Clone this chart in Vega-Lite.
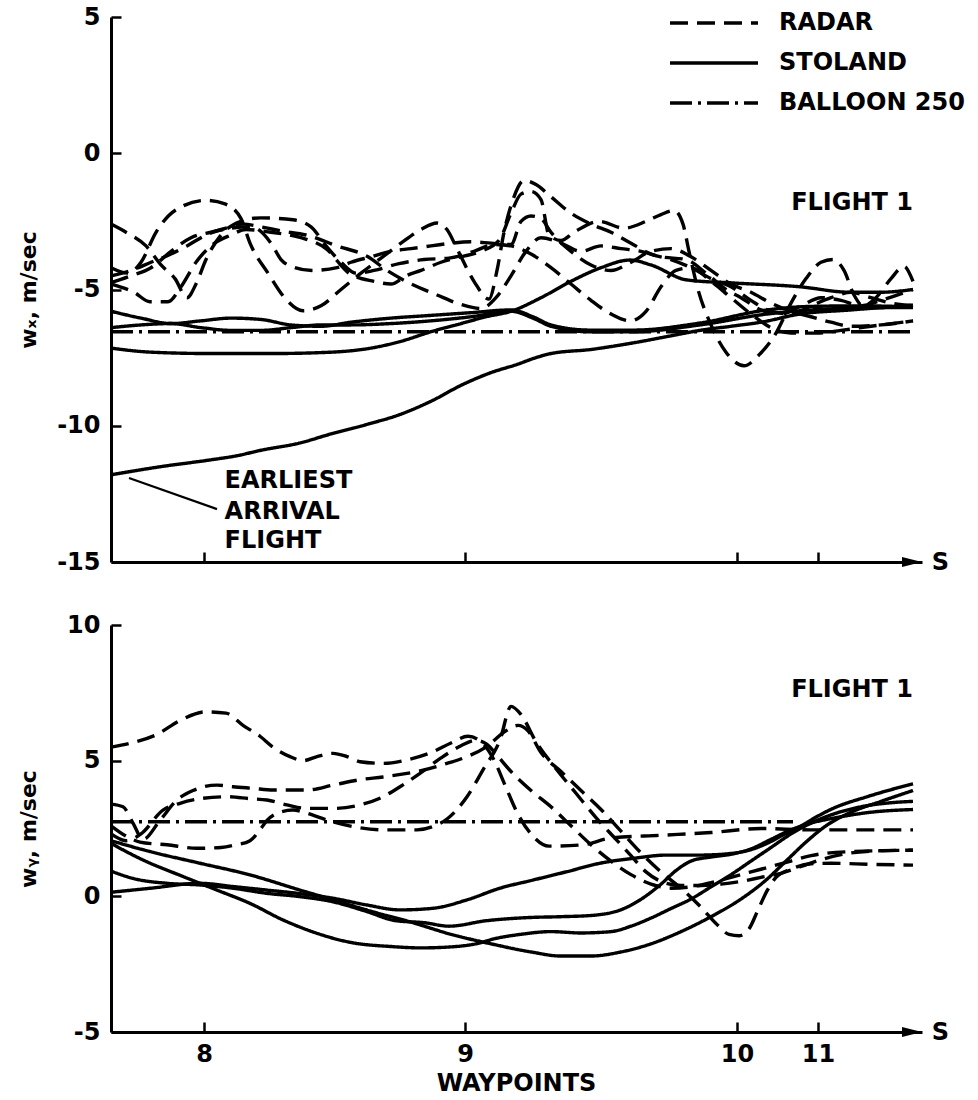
{
"$schema": "https://vega.github.io/schema/vega-lite/v6.json",
"padding": {"left": 17, "top": 5, "right": 5, "bottom": 5},
"bounds": "flush",
"spacing": 63,
"config": {
  "view": {"stroke": null},
  "font": "DejaVu Sans",
  "axis": {"domainColor": "#000", "domainWidth": 3, "tickColor": "#000", "tickWidth": 2.5, "labelColor": "#000", "labelFont": "DejaVu Sans", "labelFontWeight": "bold", "labelFontSize": 24, "titleColor": "#000", "titleFont": "DejaVu Sans", "titleFontWeight": "bold", "grid": false}
},
"datasets": {
"curves": [
{"p":"x","t":"STOLAND","id":"xs1","s":0,"w":-11.8},{"p":"x","t":"STOLAND","id":"xs1","s":5,"w":-11.5},{"p":"x","t":"STOLAND","id":"xs1","s":10,"w":-11.25},{"p":"x","t":"STOLAND","id":"xs1","s":12.6,"w":-11.1},{"p":"x","t":"STOLAND","id":"xs1","s":15,"w":-10.9},{"p":"x","t":"STOLAND","id":"xs1","s":18.8,"w":-10.64},{"p":"x","t":"STOLAND","id":"xs1","s":22,"w":-10.3},{"p":"x","t":"STOLAND","id":"xs1","s":25.7,"w":-9.94},{"p":"x","t":"STOLAND","id":"xs1","s":28.8,"w":-9.6},{"p":"x","t":"STOLAND","id":"xs1","s":32,"w":-9.1},{"p":"x","t":"STOLAND","id":"xs1","s":35.1,"w":-8.5},{"p":"x","t":"STOLAND","id":"xs1","s":38,"w":-8.05},{"p":"x","t":"STOLAND","id":"xs1","s":40.6,"w":-7.75},{"p":"x","t":"STOLAND","id":"xs1","s":42.5,"w":-7.5},{"p":"x","t":"STOLAND","id":"xs1","s":44,"w":-7.35},{"p":"x","t":"STOLAND","id":"xs1","s":48,"w":-7.2},{"p":"x","t":"STOLAND","id":"xs1","s":52.2,"w":-6.96},{"p":"x","t":"STOLAND","id":"xs1","s":56,"w":-6.7},{"p":"x","t":"STOLAND","id":"xs1","s":58.9,"w":-6.5},{"p":"x","t":"STOLAND","id":"xs1","s":62,"w":-6.35},{"p":"x","t":"STOLAND","id":"xs1","s":65,"w":-6.2},{"p":"x","t":"STOLAND","id":"xs1","s":68.9,"w":-5.9},{"p":"x","t":"STOLAND","id":"xs1","s":74,"w":-5.75},{"p":"x","t":"STOLAND","id":"xs1","s":80.2,"w":-5.57},
{"p":"x","t":"STOLAND","id":"xs2","s":0,"w":-7.15},{"p":"x","t":"STOLAND","id":"xs2","s":4,"w":-7.3},{"p":"x","t":"STOLAND","id":"xs2","s":10,"w":-7.35},{"p":"x","t":"STOLAND","id":"xs2","s":16,"w":-7.35},{"p":"x","t":"STOLAND","id":"xs2","s":22,"w":-7.3},{"p":"x","t":"STOLAND","id":"xs2","s":26,"w":-7.15},{"p":"x","t":"STOLAND","id":"xs2","s":29,"w":-6.9},{"p":"x","t":"STOLAND","id":"xs2","s":32,"w":-6.55},{"p":"x","t":"STOLAND","id":"xs2","s":35,"w":-6.25},{"p":"x","t":"STOLAND","id":"xs2","s":37.5,"w":-6.0},{"p":"x","t":"STOLAND","id":"xs2","s":40,"w":-5.8},{"p":"x","t":"STOLAND","id":"xs2","s":43,"w":-5.3},{"p":"x","t":"STOLAND","id":"xs2","s":46,"w":-4.7},{"p":"x","t":"STOLAND","id":"xs2","s":49,"w":-4.2},{"p":"x","t":"STOLAND","id":"xs2","s":51.9,"w":-3.92},{"p":"x","t":"STOLAND","id":"xs2","s":54,"w":-4.1},{"p":"x","t":"STOLAND","id":"xs2","s":57.6,"w":-4.65},{"p":"x","t":"STOLAND","id":"xs2","s":62.2,"w":-4.76},{"p":"x","t":"STOLAND","id":"xs2","s":68.9,"w":-4.9},{"p":"x","t":"STOLAND","id":"xs2","s":73.9,"w":-5.1},{"p":"x","t":"STOLAND","id":"xs2","s":77,"w":-5.1},{"p":"x","t":"STOLAND","id":"xs2","s":80.2,"w":-5.0},
{"p":"x","t":"STOLAND","id":"xs3","s":0,"w":-5.8},{"p":"x","t":"STOLAND","id":"xs3","s":3,"w":-6.05},{"p":"x","t":"STOLAND","id":"xs3","s":6,"w":-6.25},{"p":"x","t":"STOLAND","id":"xs3","s":9,"w":-6.15},{"p":"x","t":"STOLAND","id":"xs3","s":12,"w":-6.05},{"p":"x","t":"STOLAND","id":"xs3","s":15,"w":-6.1},{"p":"x","t":"STOLAND","id":"xs3","s":18,"w":-6.3},{"p":"x","t":"STOLAND","id":"xs3","s":21,"w":-6.35},{"p":"x","t":"STOLAND","id":"xs3","s":24,"w":-6.2},{"p":"x","t":"STOLAND","id":"xs3","s":28,"w":-6.05},{"p":"x","t":"STOLAND","id":"xs3","s":32,"w":-5.95},{"p":"x","t":"STOLAND","id":"xs3","s":36,"w":-5.85},{"p":"x","t":"STOLAND","id":"xs3","s":40,"w":-5.75},{"p":"x","t":"STOLAND","id":"xs3","s":42.2,"w":-6.0},{"p":"x","t":"STOLAND","id":"xs3","s":44,"w":-6.3},{"p":"x","t":"STOLAND","id":"xs3","s":47.9,"w":-6.49},{"p":"x","t":"STOLAND","id":"xs3","s":52.2,"w":-6.49},{"p":"x","t":"STOLAND","id":"xs3","s":58.9,"w":-6.23},{"p":"x","t":"STOLAND","id":"xs3","s":65.6,"w":-5.75},{"p":"x","t":"STOLAND","id":"xs3","s":70,"w":-5.62},{"p":"x","t":"STOLAND","id":"xs3","s":75,"w":-5.6},{"p":"x","t":"STOLAND","id":"xs3","s":80.2,"w":-5.64},
{"p":"x","t":"STOLAND","id":"xs4","s":0,"w":-6.4},{"p":"x","t":"STOLAND","id":"xs4","s":3,"w":-6.3},{"p":"x","t":"STOLAND","id":"xs4","s":6,"w":-6.25},{"p":"x","t":"STOLAND","id":"xs4","s":9,"w":-6.4},{"p":"x","t":"STOLAND","id":"xs4","s":12,"w":-6.5},{"p":"x","t":"STOLAND","id":"xs4","s":15,"w":-6.5},{"p":"x","t":"STOLAND","id":"xs4","s":18,"w":-6.4},{"p":"x","t":"STOLAND","id":"xs4","s":21,"w":-6.3},{"p":"x","t":"STOLAND","id":"xs4","s":24,"w":-6.3},{"p":"x","t":"STOLAND","id":"xs4","s":28,"w":-6.25},{"p":"x","t":"STOLAND","id":"xs4","s":32,"w":-6.15},{"p":"x","t":"STOLAND","id":"xs4","s":36,"w":-6.0},{"p":"x","t":"STOLAND","id":"xs4","s":40,"w":-5.8},{"p":"x","t":"STOLAND","id":"xs4","s":42.2,"w":-6.05},{"p":"x","t":"STOLAND","id":"xs4","s":44,"w":-6.35},{"p":"x","t":"STOLAND","id":"xs4","s":47.9,"w":-6.55},{"p":"x","t":"STOLAND","id":"xs4","s":52.2,"w":-6.55},{"p":"x","t":"STOLAND","id":"xs4","s":58.9,"w":-6.3},{"p":"x","t":"STOLAND","id":"xs4","s":65.6,"w":-5.9},{"p":"x","t":"STOLAND","id":"xs4","s":70,"w":-5.75},{"p":"x","t":"STOLAND","id":"xs4","s":75,"w":-5.68},{"p":"x","t":"STOLAND","id":"xs4","s":80.2,"w":-5.66},
{"p":"x","t":"BALLOON 250","id":"xb","s":0,"w":-6.55},{"p":"x","t":"BALLOON 250","id":"xb","s":80.2,"w":-6.55},
{"p":"x","t":"RADAR","id":"xr1","s":0,"w":-2.6},{"p":"x","t":"RADAR","id":"xr1","s":1.5,"w":-2.9},{"p":"x","t":"RADAR","id":"xr1","s":3.5,"w":-3.4},{"p":"x","t":"RADAR","id":"xr1","s":5,"w":-4.1},{"p":"x","t":"RADAR","id":"xr1","s":6.4,"w":-4.6},{"p":"x","t":"RADAR","id":"xr1","s":7.6,"w":-5.3},{"p":"x","t":"RADAR","id":"xr1","s":8.5,"w":-4.8},{"p":"x","t":"RADAR","id":"xr1","s":9.5,"w":-3.9},{"p":"x","t":"RADAR","id":"xr1","s":11,"w":-3.0},{"p":"x","t":"RADAR","id":"xr1","s":13,"w":-2.5},{"p":"x","t":"RADAR","id":"xr1","s":15,"w":-2.37},{"p":"x","t":"RADAR","id":"xr1","s":18.2,"w":-2.44},{"p":"x","t":"RADAR","id":"xr1","s":20,"w":-2.7},{"p":"x","t":"RADAR","id":"xr1","s":21.5,"w":-3.4},{"p":"x","t":"RADAR","id":"xr1","s":23,"w":-4.0},{"p":"x","t":"RADAR","id":"xr1","s":24.5,"w":-4.4},{"p":"x","t":"RADAR","id":"xr1","s":26.3,"w":-4.3},{"p":"x","t":"RADAR","id":"xr1","s":28.8,"w":-4.05},{"p":"x","t":"RADAR","id":"xr1","s":31.3,"w":-3.9},{"p":"x","t":"RADAR","id":"xr1","s":33.8,"w":-3.85},{"p":"x","t":"RADAR","id":"xr1","s":36.3,"w":-3.6},{"p":"x","t":"RADAR","id":"xr1","s":38.3,"w":-3.35},{"p":"x","t":"RADAR","id":"xr1","s":40,"w":-3.4},{"p":"x","t":"RADAR","id":"xr1","s":42,"w":-3.7},{"p":"x","t":"RADAR","id":"xr1","s":44,"w":-4.2},{"p":"x","t":"RADAR","id":"xr1","s":46,"w":-4.8},{"p":"x","t":"RADAR","id":"xr1","s":48,"w":-5.4},{"p":"x","t":"RADAR","id":"xr1","s":50,"w":-5.9},{"p":"x","t":"RADAR","id":"xr1","s":51.9,"w":-6.15},{"p":"x","t":"RADAR","id":"xr1","s":53.5,"w":-5.8},{"p":"x","t":"RADAR","id":"xr1","s":55,"w":-4.9},{"p":"x","t":"RADAR","id":"xr1","s":56.5,"w":-4.3},{"p":"x","t":"RADAR","id":"xr1","s":58,"w":-4.2},{"p":"x","t":"RADAR","id":"xr1","s":60,"w":-4.7},{"p":"x","t":"RADAR","id":"xr1","s":62,"w":-5.3},{"p":"x","t":"RADAR","id":"xr1","s":64,"w":-5.9},{"p":"x","t":"RADAR","id":"xr1","s":66,"w":-6.4},{"p":"x","t":"RADAR","id":"xr1","s":68,"w":-6.6},{"p":"x","t":"RADAR","id":"xr1","s":70.5,"w":-6.6},{"p":"x","t":"RADAR","id":"xr1","s":73,"w":-6.5},{"p":"x","t":"RADAR","id":"xr1","s":76,"w":-6.35},{"p":"x","t":"RADAR","id":"xr1","s":80.2,"w":-6.15},
{"p":"x","t":"RADAR","id":"xr2","s":0,"w":-4.2},{"p":"x","t":"RADAR","id":"xr2","s":1.7,"w":-4.4},{"p":"x","t":"RADAR","id":"xr2","s":3,"w":-4.0},{"p":"x","t":"RADAR","id":"xr2","s":4.5,"w":-2.9},{"p":"x","t":"RADAR","id":"xr2","s":6.4,"w":-2.1},{"p":"x","t":"RADAR","id":"xr2","s":9.5,"w":-1.73},{"p":"x","t":"RADAR","id":"xr2","s":11.4,"w":-1.86},{"p":"x","t":"RADAR","id":"xr2","s":13,"w":-2.4},{"p":"x","t":"RADAR","id":"xr2","s":13.9,"w":-3.3},{"p":"x","t":"RADAR","id":"xr2","s":15.7,"w":-4.4},{"p":"x","t":"RADAR","id":"xr2","s":17.6,"w":-5.4},{"p":"x","t":"RADAR","id":"xr2","s":19.2,"w":-5.78},{"p":"x","t":"RADAR","id":"xr2","s":21,"w":-5.6},{"p":"x","t":"RADAR","id":"xr2","s":23,"w":-5.0},{"p":"x","t":"RADAR","id":"xr2","s":25,"w":-4.4},{"p":"x","t":"RADAR","id":"xr2","s":27,"w":-3.85},{"p":"x","t":"RADAR","id":"xr2","s":29,"w":-3.3},{"p":"x","t":"RADAR","id":"xr2","s":31,"w":-2.8},{"p":"x","t":"RADAR","id":"xr2","s":32.6,"w":-2.56},{"p":"x","t":"RADAR","id":"xr2","s":33.6,"w":-2.8},{"p":"x","t":"RADAR","id":"xr2","s":34.6,"w":-3.5},{"p":"x","t":"RADAR","id":"xr2","s":36.3,"w":-4.7},{"p":"x","t":"RADAR","id":"xr2","s":37.8,"w":-5.35},{"p":"x","t":"RADAR","id":"xr2","s":38.6,"w":-4.3},{"p":"x","t":"RADAR","id":"xr2","s":39.3,"w":-2.9},{"p":"x","t":"RADAR","id":"xr2","s":40.2,"w":-1.7},{"p":"x","t":"RADAR","id":"xr2","s":41.3,"w":-1.0},{"p":"x","t":"RADAR","id":"xr2","s":42.5,"w":-1.15},{"p":"x","t":"RADAR","id":"xr2","s":44,"w":-1.6},{"p":"x","t":"RADAR","id":"xr2","s":46,"w":-2.2},{"p":"x","t":"RADAR","id":"xr2","s":48,"w":-2.6},{"p":"x","t":"RADAR","id":"xr2","s":50,"w":-2.9},{"p":"x","t":"RADAR","id":"xr2","s":52,"w":-3.3},{"p":"x","t":"RADAR","id":"xr2","s":54,"w":-3.7},{"p":"x","t":"RADAR","id":"xr2","s":56,"w":-3.9},{"p":"x","t":"RADAR","id":"xr2","s":58,"w":-4.2},{"p":"x","t":"RADAR","id":"xr2","s":60,"w":-4.6},{"p":"x","t":"RADAR","id":"xr2","s":62,"w":-4.9},{"p":"x","t":"RADAR","id":"xr2","s":64,"w":-5.4},{"p":"x","t":"RADAR","id":"xr2","s":66,"w":-5.8},{"p":"x","t":"RADAR","id":"xr2","s":68,"w":-5.9},{"p":"x","t":"RADAR","id":"xr2","s":70,"w":-5.6},{"p":"x","t":"RADAR","id":"xr2","s":72,"w":-5.3},{"p":"x","t":"RADAR","id":"xr2","s":74,"w":-5.1},{"p":"x","t":"RADAR","id":"xr2","s":76,"w":-5.3},{"p":"x","t":"RADAR","id":"xr2","s":78,"w":-5.5},{"p":"x","t":"RADAR","id":"xr2","s":80.2,"w":-5.6},
{"p":"x","t":"RADAR","id":"xr3","s":0,"w":-4.8},{"p":"x","t":"RADAR","id":"xr3","s":2.3,"w":-5.1},{"p":"x","t":"RADAR","id":"xr3","s":3.9,"w":-5.45},{"p":"x","t":"RADAR","id":"xr3","s":5.7,"w":-5.45},{"p":"x","t":"RADAR","id":"xr3","s":7,"w":-4.9},{"p":"x","t":"RADAR","id":"xr3","s":8.5,"w":-4.0},{"p":"x","t":"RADAR","id":"xr3","s":10,"w":-3.4},{"p":"x","t":"RADAR","id":"xr3","s":12,"w":-3.0},{"p":"x","t":"RADAR","id":"xr3","s":13.5,"w":-2.8},{"p":"x","t":"RADAR","id":"xr3","s":16,"w":-2.9},{"p":"x","t":"RADAR","id":"xr3","s":19,"w":-3.1},{"p":"x","t":"RADAR","id":"xr3","s":21.5,"w":-3.5},{"p":"x","t":"RADAR","id":"xr3","s":23.8,"w":-4.4},{"p":"x","t":"RADAR","id":"xr3","s":26.3,"w":-4.7},{"p":"x","t":"RADAR","id":"xr3","s":28,"w":-4.8},{"p":"x","t":"RADAR","id":"xr3","s":29.5,"w":-4.5},{"p":"x","t":"RADAR","id":"xr3","s":31,"w":-4.3},{"p":"x","t":"RADAR","id":"xr3","s":33,"w":-4.0},{"p":"x","t":"RADAR","id":"xr3","s":35,"w":-3.8},{"p":"x","t":"RADAR","id":"xr3","s":37,"w":-3.6},{"p":"x","t":"RADAR","id":"xr3","s":38.8,"w":-3.2},{"p":"x","t":"RADAR","id":"xr3","s":40,"w":-2.2},{"p":"x","t":"RADAR","id":"xr3","s":41,"w":-1.5},{"p":"x","t":"RADAR","id":"xr3","s":42,"w":-1.4},{"p":"x","t":"RADAR","id":"xr3","s":43,"w":-1.7},{"p":"x","t":"RADAR","id":"xr3","s":43.8,"w":-3.0},{"p":"x","t":"RADAR","id":"xr3","s":45,"w":-3.2},{"p":"x","t":"RADAR","id":"xr3","s":46.3,"w":-2.9},{"p":"x","t":"RADAR","id":"xr3","s":48.8,"w":-2.5},{"p":"x","t":"RADAR","id":"xr3","s":51.3,"w":-2.75},{"p":"x","t":"RADAR","id":"xr3","s":53.5,"w":-2.5},{"p":"x","t":"RADAR","id":"xr3","s":55,"w":-2.25},{"p":"x","t":"RADAR","id":"xr3","s":56.3,"w":-2.1},{"p":"x","t":"RADAR","id":"xr3","s":57.2,"w":-2.6},{"p":"x","t":"RADAR","id":"xr3","s":57.8,"w":-3.6},{"p":"x","t":"RADAR","id":"xr3","s":58.7,"w":-5.0},{"p":"x","t":"RADAR","id":"xr3","s":60,"w":-6.3},{"p":"x","t":"RADAR","id":"xr3","s":61.5,"w":-7.3},{"p":"x","t":"RADAR","id":"xr3","s":63.3,"w":-7.8},{"p":"x","t":"RADAR","id":"xr3","s":64.8,"w":-7.4},{"p":"x","t":"RADAR","id":"xr3","s":66.5,"w":-6.6},{"p":"x","t":"RADAR","id":"xr3","s":68,"w":-5.5},{"p":"x","t":"RADAR","id":"xr3","s":69.5,"w":-4.6},{"p":"x","t":"RADAR","id":"xr3","s":71,"w":-4.0},{"p":"x","t":"RADAR","id":"xr3","s":72.2,"w":-3.9},{"p":"x","t":"RADAR","id":"xr3","s":73.3,"w":-4.3},{"p":"x","t":"RADAR","id":"xr3","s":74.3,"w":-5.2},{"p":"x","t":"RADAR","id":"xr3","s":75.2,"w":-5.6},{"p":"x","t":"RADAR","id":"xr3","s":76.5,"w":-5.3},{"p":"x","t":"RADAR","id":"xr3","s":78,"w":-4.6},{"p":"x","t":"RADAR","id":"xr3","s":79.3,"w":-4.15},{"p":"x","t":"RADAR","id":"xr3","s":80.2,"w":-4.7},
{"p":"x","t":"RADAR","id":"xr4","s":0,"w":-4.5},{"p":"x","t":"RADAR","id":"xr4","s":2,"w":-4.3},{"p":"x","t":"RADAR","id":"xr4","s":4,"w":-4.0},{"p":"x","t":"RADAR","id":"xr4","s":6,"w":-3.7},{"p":"x","t":"RADAR","id":"xr4","s":7.6,"w":-3.4},{"p":"x","t":"RADAR","id":"xr4","s":9.5,"w":-3.0},{"p":"x","t":"RADAR","id":"xr4","s":11.4,"w":-2.76},{"p":"x","t":"RADAR","id":"xr4","s":13.2,"w":-2.6},{"p":"x","t":"RADAR","id":"xr4","s":15,"w":-2.7},{"p":"x","t":"RADAR","id":"xr4","s":17,"w":-2.85},{"p":"x","t":"RADAR","id":"xr4","s":19.5,"w":-3.0},{"p":"x","t":"RADAR","id":"xr4","s":22.6,"w":-3.4},{"p":"x","t":"RADAR","id":"xr4","s":25.7,"w":-3.8},{"p":"x","t":"RADAR","id":"xr4","s":27.6,"w":-4.3},{"p":"x","t":"RADAR","id":"xr4","s":29.5,"w":-4.7},{"p":"x","t":"RADAR","id":"xr4","s":32.6,"w":-5.2},{"p":"x","t":"RADAR","id":"xr4","s":35,"w":-5.55},{"p":"x","t":"RADAR","id":"xr4","s":37,"w":-5.7},{"p":"x","t":"RADAR","id":"xr4","s":38.5,"w":-5.3},{"p":"x","t":"RADAR","id":"xr4","s":40,"w":-4.5},{"p":"x","t":"RADAR","id":"xr4","s":41.5,"w":-3.6},{"p":"x","t":"RADAR","id":"xr4","s":43,"w":-3.1},{"p":"x","t":"RADAR","id":"xr4","s":45,"w":-3.3},{"p":"x","t":"RADAR","id":"xr4","s":47,"w":-3.6},{"p":"x","t":"RADAR","id":"xr4","s":49,"w":-3.4},{"p":"x","t":"RADAR","id":"xr4","s":51,"w":-3.5},{"p":"x","t":"RADAR","id":"xr4","s":53,"w":-3.6},{"p":"x","t":"RADAR","id":"xr4","s":55,"w":-3.8},{"p":"x","t":"RADAR","id":"xr4","s":57.5,"w":-3.9},{"p":"x","t":"RADAR","id":"xr4","s":59.5,"w":-4.4},{"p":"x","t":"RADAR","id":"xr4","s":61.5,"w":-5.0},{"p":"x","t":"RADAR","id":"xr4","s":63,"w":-5.3},{"p":"x","t":"RADAR","id":"xr4","s":65,"w":-5.75},{"p":"x","t":"RADAR","id":"xr4","s":67,"w":-5.9},{"p":"x","t":"RADAR","id":"xr4","s":69,"w":-5.6},{"p":"x","t":"RADAR","id":"xr4","s":71,"w":-5.3},{"p":"x","t":"RADAR","id":"xr4","s":73,"w":-5.4},{"p":"x","t":"RADAR","id":"xr4","s":75,"w":-5.6},{"p":"x","t":"RADAR","id":"xr4","s":77,"w":-5.4},{"p":"x","t":"RADAR","id":"xr4","s":80.2,"w":-5.0},
{"p":"x","t":"RADAR","id":"xr5","s":0,"w":-4.75},{"p":"x","t":"RADAR","id":"xr5","s":2,"w":-4.5},{"p":"x","t":"RADAR","id":"xr5","s":4,"w":-4.2},{"p":"x","t":"RADAR","id":"xr5","s":6,"w":-3.6},{"p":"x","t":"RADAR","id":"xr5","s":8,"w":-3.1},{"p":"x","t":"RADAR","id":"xr5","s":10,"w":-2.9},{"p":"x","t":"RADAR","id":"xr5","s":12,"w":-2.75},{"p":"x","t":"RADAR","id":"xr5","s":14,"w":-2.7},{"p":"x","t":"RADAR","id":"xr5","s":16,"w":-3.3},{"p":"x","t":"RADAR","id":"xr5","s":17,"w":-3.9},{"p":"x","t":"RADAR","id":"xr5","s":18.2,"w":-4.17},{"p":"x","t":"RADAR","id":"xr5","s":20.1,"w":-4.3},{"p":"x","t":"RADAR","id":"xr5","s":22.6,"w":-4.2},{"p":"x","t":"RADAR","id":"xr5","s":24,"w":-4.0},{"p":"x","t":"RADAR","id":"xr5","s":26,"w":-3.8},{"p":"x","t":"RADAR","id":"xr5","s":28,"w":-3.6},{"p":"x","t":"RADAR","id":"xr5","s":30,"w":-3.5},{"p":"x","t":"RADAR","id":"xr5","s":32,"w":-3.4},{"p":"x","t":"RADAR","id":"xr5","s":34,"w":-3.3},{"p":"x","t":"RADAR","id":"xr5","s":36,"w":-3.25},{"p":"x","t":"RADAR","id":"xr5","s":38,"w":-3.3},{"p":"x","t":"RADAR","id":"xr5","s":40,"w":-3.35},{"p":"x","t":"RADAR","id":"xr5","s":41,"w":-2.5},{"p":"x","t":"RADAR","id":"xr5","s":42,"w":-2.3},{"p":"x","t":"RADAR","id":"xr5","s":43,"w":-2.4},{"p":"x","t":"RADAR","id":"xr5","s":44,"w":-2.9},{"p":"x","t":"RADAR","id":"xr5","s":46,"w":-3.6},{"p":"x","t":"RADAR","id":"xr5","s":48,"w":-4.1},{"p":"x","t":"RADAR","id":"xr5","s":50,"w":-4.3},{"p":"x","t":"RADAR","id":"xr5","s":52,"w":-4.0},{"p":"x","t":"RADAR","id":"xr5","s":54,"w":-3.6},{"p":"x","t":"RADAR","id":"xr5","s":56,"w":-3.5},{"p":"x","t":"RADAR","id":"xr5","s":58,"w":-3.8},{"p":"x","t":"RADAR","id":"xr5","s":60,"w":-4.3},{"p":"x","t":"RADAR","id":"xr5","s":62,"w":-4.8},{"p":"x","t":"RADAR","id":"xr5","s":64,"w":-5.1},{"p":"x","t":"RADAR","id":"xr5","s":66,"w":-5.5},{"p":"x","t":"RADAR","id":"xr5","s":68,"w":-5.8},{"p":"x","t":"RADAR","id":"xr5","s":70,"w":-6.0},{"p":"x","t":"RADAR","id":"xr5","s":72,"w":-6.2},{"p":"x","t":"RADAR","id":"xr5","s":74,"w":-6.35},{"p":"x","t":"RADAR","id":"xr5","s":77,"w":-6.3},{"p":"x","t":"RADAR","id":"xr5","s":80.2,"w":-6.15},
{"p":"y","t":"STOLAND","id":"ys1","s":0,"w":2.05},{"p":"y","t":"STOLAND","id":"ys1","s":3.9,"w":1.65},{"p":"y","t":"STOLAND","id":"ys1","s":8.9,"w":1.22},{"p":"y","t":"STOLAND","id":"ys1","s":13.9,"w":0.79},{"p":"y","t":"STOLAND","id":"ys1","s":18.9,"w":0.23},{"p":"y","t":"STOLAND","id":"ys1","s":22.2,"w":-0.13},{"p":"y","t":"STOLAND","id":"ys1","s":26,"w":-0.55},{"p":"y","t":"STOLAND","id":"ys1","s":30,"w":-0.95},{"p":"y","t":"STOLAND","id":"ys1","s":34,"w":-1.4},{"p":"y","t":"STOLAND","id":"ys1","s":38,"w":-1.75},{"p":"y","t":"STOLAND","id":"ys1","s":42,"w":-2.05},{"p":"y","t":"STOLAND","id":"ys1","s":45,"w":-2.2},{"p":"y","t":"STOLAND","id":"ys1","s":48,"w":-2.2},{"p":"y","t":"STOLAND","id":"ys1","s":51,"w":-2.05},{"p":"y","t":"STOLAND","id":"ys1","s":54,"w":-1.75},{"p":"y","t":"STOLAND","id":"ys1","s":57,"w":-1.3},{"p":"y","t":"STOLAND","id":"ys1","s":60,"w":-0.75},{"p":"y","t":"STOLAND","id":"ys1","s":63,"w":-0.1},{"p":"y","t":"STOLAND","id":"ys1","s":65.5,"w":0.6},{"p":"y","t":"STOLAND","id":"ys1","s":67.5,"w":1.3},{"p":"y","t":"STOLAND","id":"ys1","s":69.5,"w":2.0},{"p":"y","t":"STOLAND","id":"ys1","s":71.5,"w":2.6},{"p":"y","t":"STOLAND","id":"ys1","s":74,"w":3.1},{"p":"y","t":"STOLAND","id":"ys1","s":77,"w":3.5},{"p":"y","t":"STOLAND","id":"ys1","s":80.2,"w":3.9},
{"p":"y","t":"STOLAND","id":"ys2","s":0,"w":1.95},{"p":"y","t":"STOLAND","id":"ys2","s":3.2,"w":1.34},{"p":"y","t":"STOLAND","id":"ys2","s":7.2,"w":0.73},{"p":"y","t":"STOLAND","id":"ys2","s":10.6,"w":0.23},{"p":"y","t":"STOLAND","id":"ys2","s":13.9,"w":-0.26},{"p":"y","t":"STOLAND","id":"ys2","s":17.2,"w":-0.87},{"p":"y","t":"STOLAND","id":"ys2","s":20.5,"w":-1.35},{"p":"y","t":"STOLAND","id":"ys2","s":24,"w":-1.7},{"p":"y","t":"STOLAND","id":"ys2","s":28,"w":-1.85},{"p":"y","t":"STOLAND","id":"ys2","s":31,"w":-1.9},{"p":"y","t":"STOLAND","id":"ys2","s":34.5,"w":-1.85},{"p":"y","t":"STOLAND","id":"ys2","s":36.5,"w":-1.75},{"p":"y","t":"STOLAND","id":"ys2","s":38.5,"w":-1.55},{"p":"y","t":"STOLAND","id":"ys2","s":41,"w":-1.4},{"p":"y","t":"STOLAND","id":"ys2","s":44,"w":-1.3},{"p":"y","t":"STOLAND","id":"ys2","s":47,"w":-1.35},{"p":"y","t":"STOLAND","id":"ys2","s":50,"w":-1.3},{"p":"y","t":"STOLAND","id":"ys2","s":52,"w":-1.1},{"p":"y","t":"STOLAND","id":"ys2","s":54,"w":-0.8},{"p":"y","t":"STOLAND","id":"ys2","s":56,"w":-0.45},{"p":"y","t":"STOLAND","id":"ys2","s":58,"w":-0.1},{"p":"y","t":"STOLAND","id":"ys2","s":60,"w":0.35},{"p":"y","t":"STOLAND","id":"ys2","s":62,"w":0.8},{"p":"y","t":"STOLAND","id":"ys2","s":64,"w":1.3},{"p":"y","t":"STOLAND","id":"ys2","s":66,"w":1.8},{"p":"y","t":"STOLAND","id":"ys2","s":68,"w":2.3},{"p":"y","t":"STOLAND","id":"ys2","s":70,"w":2.7},{"p":"y","t":"STOLAND","id":"ys2","s":72,"w":3.0},{"p":"y","t":"STOLAND","id":"ys2","s":75,"w":3.3},{"p":"y","t":"STOLAND","id":"ys2","s":78,"w":3.45},{"p":"y","t":"STOLAND","id":"ys2","s":80.2,"w":3.5},
{"p":"y","t":"STOLAND","id":"ys3","s":0,"w":0.93},{"p":"y","t":"STOLAND","id":"ys3","s":2.2,"w":0.66},{"p":"y","t":"STOLAND","id":"ys3","s":5.6,"w":0.48},{"p":"y","t":"STOLAND","id":"ys3","s":8.9,"w":0.42},{"p":"y","t":"STOLAND","id":"ys3","s":12.2,"w":0.3},{"p":"y","t":"STOLAND","id":"ys3","s":15.6,"w":0.11},{"p":"y","t":"STOLAND","id":"ys3","s":18.9,"w":-0.01},{"p":"y","t":"STOLAND","id":"ys3","s":22.2,"w":-0.2},{"p":"y","t":"STOLAND","id":"ys3","s":25.5,"w":-0.55},{"p":"y","t":"STOLAND","id":"ys3","s":28.5,"w":-0.9},{"p":"y","t":"STOLAND","id":"ys3","s":31.3,"w":-0.97},{"p":"y","t":"STOLAND","id":"ys3","s":33.8,"w":-1.1},{"p":"y","t":"STOLAND","id":"ys3","s":37.5,"w":-0.9},{"p":"y","t":"STOLAND","id":"ys3","s":41.9,"w":-0.78},{"p":"y","t":"STOLAND","id":"ys3","s":45,"w":-0.75},{"p":"y","t":"STOLAND","id":"ys3","s":48.2,"w":-0.7},{"p":"y","t":"STOLAND","id":"ys3","s":51.3,"w":-0.45},{"p":"y","t":"STOLAND","id":"ys3","s":53.2,"w":-0.06},{"p":"y","t":"STOLAND","id":"ys3","s":55,"w":0.45},{"p":"y","t":"STOLAND","id":"ys3","s":56.5,"w":0.95},{"p":"y","t":"STOLAND","id":"ys3","s":58,"w":1.3},{"p":"y","t":"STOLAND","id":"ys3","s":60,"w":1.45},{"p":"y","t":"STOLAND","id":"ys3","s":62,"w":1.55},{"p":"y","t":"STOLAND","id":"ys3","s":64,"w":1.75},{"p":"y","t":"STOLAND","id":"ys3","s":66,"w":2.1},{"p":"y","t":"STOLAND","id":"ys3","s":68,"w":2.45},{"p":"y","t":"STOLAND","id":"ys3","s":70,"w":2.7},{"p":"y","t":"STOLAND","id":"ys3","s":72.5,"w":2.9},{"p":"y","t":"STOLAND","id":"ys3","s":76,"w":3.1},{"p":"y","t":"STOLAND","id":"ys3","s":80.2,"w":3.2},
{"p":"y","t":"STOLAND","id":"ys4","s":0,"w":0.15},{"p":"y","t":"STOLAND","id":"ys4","s":4,"w":0.3},{"p":"y","t":"STOLAND","id":"ys4","s":8.9,"w":0.48},{"p":"y","t":"STOLAND","id":"ys4","s":12.2,"w":0.36},{"p":"y","t":"STOLAND","id":"ys4","s":15.6,"w":0.23},{"p":"y","t":"STOLAND","id":"ys4","s":18.9,"w":0.1},{"p":"y","t":"STOLAND","id":"ys4","s":22.2,"w":-0.07},{"p":"y","t":"STOLAND","id":"ys4","s":25.6,"w":-0.32},{"p":"y","t":"STOLAND","id":"ys4","s":28.9,"w":-0.5},{"p":"y","t":"STOLAND","id":"ys4","s":32.2,"w":-0.44},{"p":"y","t":"STOLAND","id":"ys4","s":35.6,"w":-0.13},{"p":"y","t":"STOLAND","id":"ys4","s":38.9,"w":0.3},{"p":"y","t":"STOLAND","id":"ys4","s":42.2,"w":0.6},{"p":"y","t":"STOLAND","id":"ys4","s":45.6,"w":0.91},{"p":"y","t":"STOLAND","id":"ys4","s":48.9,"w":1.22},{"p":"y","t":"STOLAND","id":"ys4","s":52.2,"w":1.4},{"p":"y","t":"STOLAND","id":"ys4","s":55.6,"w":1.52},{"p":"y","t":"STOLAND","id":"ys4","s":58.9,"w":1.52},{"p":"y","t":"STOLAND","id":"ys4","s":62.2,"w":1.59},{"p":"y","t":"STOLAND","id":"ys4","s":63.9,"w":1.71},{"p":"y","t":"STOLAND","id":"ys4","s":65.6,"w":1.95},{"p":"y","t":"STOLAND","id":"ys4","s":67.2,"w":2.26},{"p":"y","t":"STOLAND","id":"ys4","s":68.9,"w":2.57},{"p":"y","t":"STOLAND","id":"ys4","s":70.6,"w":2.94},{"p":"y","t":"STOLAND","id":"ys4","s":72.2,"w":3.24},{"p":"y","t":"STOLAND","id":"ys4","s":75.6,"w":3.67},{"p":"y","t":"STOLAND","id":"ys4","s":80.2,"w":4.15},
{"p":"y","t":"BALLOON 250","id":"yb","s":0,"w":2.75},{"p":"y","t":"BALLOON 250","id":"yb","s":68.2,"w":2.75},
{"p":"y","t":"RADAR","id":"yr1","s":0,"w":5.5},{"p":"y","t":"RADAR","id":"yr1","s":2,"w":5.65},{"p":"y","t":"RADAR","id":"yr1","s":4.5,"w":5.95},{"p":"y","t":"RADAR","id":"yr1","s":7,"w":6.5},{"p":"y","t":"RADAR","id":"yr1","s":9.5,"w":6.8},{"p":"y","t":"RADAR","id":"yr1","s":11.5,"w":6.75},{"p":"y","t":"RADAR","id":"yr1","s":13.2,"w":6.3},{"p":"y","t":"RADAR","id":"yr1","s":14.9,"w":5.9},{"p":"y","t":"RADAR","id":"yr1","s":16.2,"w":5.5},{"p":"y","t":"RADAR","id":"yr1","s":17.9,"w":5.15},{"p":"y","t":"RADAR","id":"yr1","s":19.2,"w":5.0},{"p":"y","t":"RADAR","id":"yr1","s":20.6,"w":5.15},{"p":"y","t":"RADAR","id":"yr1","s":22.2,"w":5.27},{"p":"y","t":"RADAR","id":"yr1","s":23.6,"w":5.15},{"p":"y","t":"RADAR","id":"yr1","s":24.9,"w":4.96},{"p":"y","t":"RADAR","id":"yr1","s":27.2,"w":4.9},{"p":"y","t":"RADAR","id":"yr1","s":29.6,"w":5.03},{"p":"y","t":"RADAR","id":"yr1","s":32.2,"w":5.33},{"p":"y","t":"RADAR","id":"yr1","s":34,"w":5.65},{"p":"y","t":"RADAR","id":"yr1","s":35.7,"w":5.9},{"p":"y","t":"RADAR","id":"yr1","s":37,"w":5.7},{"p":"y","t":"RADAR","id":"yr1","s":38.2,"w":5.1},{"p":"y","t":"RADAR","id":"yr1","s":39.4,"w":4.1},{"p":"y","t":"RADAR","id":"yr1","s":40.6,"w":3.1},{"p":"y","t":"RADAR","id":"yr1","s":42,"w":2.3},{"p":"y","t":"RADAR","id":"yr1","s":43.8,"w":1.85},{"p":"y","t":"RADAR","id":"yr1","s":47.2,"w":1.9},{"p":"y","t":"RADAR","id":"yr1","s":50,"w":2.15},{"p":"y","t":"RADAR","id":"yr1","s":55,"w":2.25},{"p":"y","t":"RADAR","id":"yr1","s":60,"w":2.35},{"p":"y","t":"RADAR","id":"yr1","s":65,"w":2.5},{"p":"y","t":"RADAR","id":"yr1","s":70,"w":2.45},{"p":"y","t":"RADAR","id":"yr1","s":80.2,"w":2.45},
{"p":"y","t":"RADAR","id":"yr2","s":0,"w":2.6},{"p":"y","t":"RADAR","id":"yr2","s":1.6,"w":2.2},{"p":"y","t":"RADAR","id":"yr2","s":2.9,"w":2.0},{"p":"y","t":"RADAR","id":"yr2","s":5.6,"w":1.9},{"p":"y","t":"RADAR","id":"yr2","s":8.6,"w":1.77},{"p":"y","t":"RADAR","id":"yr2","s":11,"w":1.8},{"p":"y","t":"RADAR","id":"yr2","s":12.5,"w":1.9},{"p":"y","t":"RADAR","id":"yr2","s":13.9,"w":2.05},{"p":"y","t":"RADAR","id":"yr2","s":14.9,"w":2.45},{"p":"y","t":"RADAR","id":"yr2","s":15.6,"w":2.8},{"p":"y","t":"RADAR","id":"yr2","s":16.9,"w":3.1},{"p":"y","t":"RADAR","id":"yr2","s":18.2,"w":3.18},{"p":"y","t":"RADAR","id":"yr2","s":19.6,"w":3.06},{"p":"y","t":"RADAR","id":"yr2","s":21.6,"w":2.81},{"p":"y","t":"RADAR","id":"yr2","s":24.2,"w":2.57},{"p":"y","t":"RADAR","id":"yr2","s":27.2,"w":2.45},{"p":"y","t":"RADAR","id":"yr2","s":30.6,"w":2.45},{"p":"y","t":"RADAR","id":"yr2","s":32.2,"w":2.57},{"p":"y","t":"RADAR","id":"yr2","s":33.6,"w":2.85},{"p":"y","t":"RADAR","id":"yr2","s":35.6,"w":3.67},{"p":"y","t":"RADAR","id":"yr2","s":37.2,"w":4.66},{"p":"y","t":"RADAR","id":"yr2","s":38.9,"w":5.76},{"p":"y","t":"RADAR","id":"yr2","s":40,"w":7.0},{"p":"y","t":"RADAR","id":"yr2","s":41,"w":6.7},{"p":"y","t":"RADAR","id":"yr2","s":42.5,"w":5.7},{"p":"y","t":"RADAR","id":"yr2","s":44.5,"w":4.7},{"p":"y","t":"RADAR","id":"yr2","s":46.5,"w":3.8},{"p":"y","t":"RADAR","id":"yr2","s":48.5,"w":2.9},{"p":"y","t":"RADAR","id":"yr2","s":50.5,"w":2.1},{"p":"y","t":"RADAR","id":"yr2","s":52,"w":1.5},{"p":"y","t":"RADAR","id":"yr2","s":53.5,"w":0.9},{"p":"y","t":"RADAR","id":"yr2","s":55,"w":0.55},{"p":"y","t":"RADAR","id":"yr2","s":57,"w":0.4},{"p":"y","t":"RADAR","id":"yr2","s":59,"w":0.4},{"p":"y","t":"RADAR","id":"yr2","s":61,"w":0.45},{"p":"y","t":"RADAR","id":"yr2","s":63,"w":0.55},{"p":"y","t":"RADAR","id":"yr2","s":65,"w":0.7},{"p":"y","t":"RADAR","id":"yr2","s":67,"w":0.85},{"p":"y","t":"RADAR","id":"yr2","s":69,"w":1.1},{"p":"y","t":"RADAR","id":"yr2","s":71,"w":1.35},{"p":"y","t":"RADAR","id":"yr2","s":74,"w":1.6},{"p":"y","t":"RADAR","id":"yr2","s":77,"w":1.68},{"p":"y","t":"RADAR","id":"yr2","s":80.2,"w":1.7},
{"p":"y","t":"RADAR","id":"yr3","s":0,"w":3.4},{"p":"y","t":"RADAR","id":"yr3","s":1.2,"w":3.3},{"p":"y","t":"RADAR","id":"yr3","s":2.2,"w":2.7},{"p":"y","t":"RADAR","id":"yr3","s":3.2,"w":2.1},{"p":"y","t":"RADAR","id":"yr3","s":4.9,"w":2.8},{"p":"y","t":"RADAR","id":"yr3","s":6.6,"w":3.55},{"p":"y","t":"RADAR","id":"yr3","s":8.2,"w":3.9},{"p":"y","t":"RADAR","id":"yr3","s":10.6,"w":4.1},{"p":"y","t":"RADAR","id":"yr3","s":12.2,"w":4.04},{"p":"y","t":"RADAR","id":"yr3","s":14.2,"w":3.98},{"p":"y","t":"RADAR","id":"yr3","s":16.2,"w":3.92},{"p":"y","t":"RADAR","id":"yr3","s":19.6,"w":3.92},{"p":"y","t":"RADAR","id":"yr3","s":22.2,"w":4.1},{"p":"y","t":"RADAR","id":"yr3","s":24.9,"w":4.3},{"p":"y","t":"RADAR","id":"yr3","s":27.2,"w":4.4},{"p":"y","t":"RADAR","id":"yr3","s":30.6,"w":4.6},{"p":"y","t":"RADAR","id":"yr3","s":33.6,"w":4.9},{"p":"y","t":"RADAR","id":"yr3","s":35.6,"w":5.15},{"p":"y","t":"RADAR","id":"yr3","s":37.5,"w":5.5},{"p":"y","t":"RADAR","id":"yr3","s":39.5,"w":6.1},{"p":"y","t":"RADAR","id":"yr3","s":40.7,"w":6.3},{"p":"y","t":"RADAR","id":"yr3","s":41.7,"w":6.1},{"p":"y","t":"RADAR","id":"yr3","s":43,"w":5.3},{"p":"y","t":"RADAR","id":"yr3","s":45,"w":4.6},{"p":"y","t":"RADAR","id":"yr3","s":47,"w":3.9},{"p":"y","t":"RADAR","id":"yr3","s":49,"w":3.2},{"p":"y","t":"RADAR","id":"yr3","s":51,"w":2.4},{"p":"y","t":"RADAR","id":"yr3","s":53,"w":1.6},{"p":"y","t":"RADAR","id":"yr3","s":55,"w":0.9},{"p":"y","t":"RADAR","id":"yr3","s":57,"w":0.3},{"p":"y","t":"RADAR","id":"yr3","s":59,"w":-0.4},{"p":"y","t":"RADAR","id":"yr3","s":60.5,"w":-1.0},{"p":"y","t":"RADAR","id":"yr3","s":61.8,"w":-1.4},{"p":"y","t":"RADAR","id":"yr3","s":62.8,"w":-1.45},{"p":"y","t":"RADAR","id":"yr3","s":63.8,"w":-1.2},{"p":"y","t":"RADAR","id":"yr3","s":64.7,"w":-0.5},{"p":"y","t":"RADAR","id":"yr3","s":65.6,"w":0.2},{"p":"y","t":"RADAR","id":"yr3","s":66.5,"w":0.7},{"p":"y","t":"RADAR","id":"yr3","s":68,"w":1.0},{"p":"y","t":"RADAR","id":"yr3","s":70,"w":1.2},{"p":"y","t":"RADAR","id":"yr3","s":72,"w":1.22},{"p":"y","t":"RADAR","id":"yr3","s":76,"w":1.18},{"p":"y","t":"RADAR","id":"yr3","s":80.2,"w":1.15},
{"p":"y","t":"RADAR","id":"yr4","s":0,"w":2.3},{"p":"y","t":"RADAR","id":"yr4","s":1.5,"w":2.05},{"p":"y","t":"RADAR","id":"yr4","s":3,"w":2.3},{"p":"y","t":"RADAR","id":"yr4","s":5.2,"w":3.18},{"p":"y","t":"RADAR","id":"yr4","s":6.9,"w":3.43},{"p":"y","t":"RADAR","id":"yr4","s":8.9,"w":3.6},{"p":"y","t":"RADAR","id":"yr4","s":11.6,"w":3.67},{"p":"y","t":"RADAR","id":"yr4","s":13.9,"w":3.6},{"p":"y","t":"RADAR","id":"yr4","s":15.6,"w":3.55},{"p":"y","t":"RADAR","id":"yr4","s":17.6,"w":3.37},{"p":"y","t":"RADAR","id":"yr4","s":19.6,"w":3.24},{"p":"y","t":"RADAR","id":"yr4","s":22.2,"w":3.24},{"p":"y","t":"RADAR","id":"yr4","s":24.9,"w":3.37},{"p":"y","t":"RADAR","id":"yr4","s":27.2,"w":3.67},{"p":"y","t":"RADAR","id":"yr4","s":28.9,"w":4.04},{"p":"y","t":"RADAR","id":"yr4","s":30.9,"w":4.53},{"p":"y","t":"RADAR","id":"yr4","s":33,"w":5.1},{"p":"y","t":"RADAR","id":"yr4","s":35,"w":5.55},{"p":"y","t":"RADAR","id":"yr4","s":36.5,"w":5.75},{"p":"y","t":"RADAR","id":"yr4","s":37.6,"w":5.6},{"p":"y","t":"RADAR","id":"yr4","s":38.6,"w":5.2},{"p":"y","t":"RADAR","id":"yr4","s":40,"w":4.6},{"p":"y","t":"RADAR","id":"yr4","s":42,"w":3.9},{"p":"y","t":"RADAR","id":"yr4","s":44,"w":3.3},{"p":"y","t":"RADAR","id":"yr4","s":46,"w":2.6},{"p":"y","t":"RADAR","id":"yr4","s":48,"w":1.9},{"p":"y","t":"RADAR","id":"yr4","s":50,"w":1.3},{"p":"y","t":"RADAR","id":"yr4","s":52,"w":0.8},{"p":"y","t":"RADAR","id":"yr4","s":54,"w":0.45},{"p":"y","t":"RADAR","id":"yr4","s":56,"w":0.3},{"p":"y","t":"RADAR","id":"yr4","s":58,"w":0.35},{"p":"y","t":"RADAR","id":"yr4","s":60,"w":0.5},{"p":"y","t":"RADAR","id":"yr4","s":62,"w":0.7},{"p":"y","t":"RADAR","id":"yr4","s":64,"w":0.9},{"p":"y","t":"RADAR","id":"yr4","s":66,"w":1.1},{"p":"y","t":"RADAR","id":"yr4","s":68,"w":1.3},{"p":"y","t":"RADAR","id":"yr4","s":70,"w":1.5},{"p":"y","t":"RADAR","id":"yr4","s":74,"w":1.65},{"p":"y","t":"RADAR","id":"yr4","s":80.2,"w":1.7}
]
},
"vconcat": [
{
 "width": 811, "height": 545,
 "layer": [
  {"mark": {"type": "rule", "strokeWidth": 3, "color": "#000"},
   "encoding": {"x": {"datum": 0, "type": "quantitative"}, "x2": {"datum": 80.2}, "y": {"datum": 0, "type": "quantitative"}}},
  {"data": {"name": "curves"}, "transform": [{"filter": "datum.p === 'x'"}],
   "mark": {"type": "line", "interpolate": "monotone", "strokeWidth": 3.4, "color": "#000"},
   "encoding": {
    "x": {"field": "s", "type": "quantitative", "scale": {"domain": [0, 81.1], "nice": false, "zero": false},
          "axis": {"values": [9.3, 35.4, 62.6, 70.7], "labels": false, "tickSize": -10, "title": "S", "titleX": 829, "titleY": 0, "titleBaseline": "middle", "titleAlign": "center", "titleFontSize": 24, "titleAngle": 0}},
    "y": {"field": "w", "type": "quantitative", "scale": {"domain": [-15, 5], "nice": false, "zero": false},
          "axis": {"values": [-15, -10, -5, 0, 5], "tickSize": -10, "labelPadding": 21, "labelExpr": "datum.value < 0 ? '-' + abs(datum.value) : datum.label", "title": "wₓ, m/sec", "titleX": -83, "titleBaseline": "middle", "titleFontSize": 22}},
    "detail": {"field": "id", "type": "nominal"},
    "strokeDash": {"field": "t", "type": "nominal",
      "scale": {"domain": ["RADAR", "STOLAND", "BALLOON 250"], "range": [[18, 9], [1, 0], [22, 6, 3, 6]]},
      "legend": {"orient": "none", "legendX": 591, "legendY": -6, "title": null, "symbolType": "M -8 0 L 8 0", "symbolSize": 121, "symbolStrokeWidth": 3.4, "symbolStrokeColor": "#000", "symbolFillColor": "transparent", "labelFont": "DejaVu Sans", "labelFontWeight": "bold", "labelFontSize": 24, "labelColor": "#000", "labelOffset": 53, "rowPadding": 16, "padding": 0, "labelLimit": 400,
        "encode": {"symbols": {"update": {"strokeDash": {"signal": "datum.value === 'RADAR' ? [34, 14, 40, 0] : datum.value === 'STOLAND' ? [1, 0] : [19, 6, 3, 6, 60, 0]"}}}}}}
   }},
  {"data": {"values": [{"s": 1.8, "w": -11.92, "s2": 10.6, "w2": -13.06}]},
   "mark": {"type": "rule", "strokeWidth": 2.2, "color": "#000"},
   "encoding": {"x": {"field": "s", "type": "quantitative"}, "y": {"field": "w", "type": "quantitative"}, "x2": {"field": "s2"}, "y2": {"field": "w2"}}},
  {"data": {"values": [{"s": 11.36, "w": -12.01, "txt": "EARLIEST"}, {"s": 11.36, "w": -13.17, "txt": "ARRIVAL"}, {"s": 11.36, "w": -14.22, "txt": "FLIGHT"}]},
   "mark": {"type": "text", "align": "left", "baseline": "middle", "font": "DejaVu Sans", "fontWeight": "bold", "fontSize": 24, "color": "#000"},
   "encoding": {"x": {"field": "s", "type": "quantitative"}, "y": {"field": "w", "type": "quantitative"}, "text": {"field": "txt"}}},
  {"data": {"values": [{"s": 80.2, "w": -1.81, "txt": "FLIGHT 1"}]},
   "mark": {"type": "text", "align": "right", "baseline": "middle", "font": "DejaVu Sans", "fontWeight": "bold", "fontSize": 24, "color": "#000"},
   "encoding": {"x": {"field": "s", "type": "quantitative"}, "y": {"field": "w", "type": "quantitative"}, "text": {"field": "txt"}}},
  {"data": {"values": [{"s": 81.1, "w": -15}]},
   "mark": {"type": "point", "shape": "M -2 -0.5 L 0 0 L -2 0.5 Z", "size": 400, "filled": true, "color": "#000", "opacity": 1, "strokeWidth": 0},
   "encoding": {"x": {"field": "s", "type": "quantitative"}, "y": {"field": "w", "type": "quantitative"}}}
 ]
},
{
 "width": 811, "height": 407,
 "title": {"text": "WAYPOINTS", "orient": "bottom", "anchor": "middle", "frame": "group", "font": "DejaVu Sans", "fontWeight": "bold", "fontSize": 24, "color": "#000", "offset": 6},
 "layer": [
  {"mark": {"type": "rule", "strokeWidth": 3, "color": "#000"},
   "encoding": {"x": {"datum": 0, "type": "quantitative"}, "x2": {"datum": 80.2}, "y": {"datum": 0, "type": "quantitative"}}},
  {"data": {"name": "curves"}, "transform": [{"filter": "datum.p === 'y'"}],
   "mark": {"type": "line", "interpolate": "monotone", "strokeWidth": 3.4, "color": "#000"},
   "encoding": {
    "x": {"field": "s", "type": "quantitative", "scale": {"domain": [0, 81.1], "nice": false, "zero": false},
          "axis": {"values": [9.3, 35.4, 62.6, 70.7], "tickSize": -10, "labelPadding": 20, "labelExpr": "datum.value < 20 ? '8' : datum.value < 50 ? '9' : datum.value < 66 ? '10' : '11'", "title": "S", "titleX": 829, "titleY": 0, "titleBaseline": "middle", "titleAlign": "center", "titleFontSize": 24, "titleAngle": 0}},
    "y": {"field": "w", "type": "quantitative", "scale": {"domain": [-5, 10], "nice": false, "zero": false},
          "axis": {"values": [-5, 0, 5, 10], "tickSize": -10, "labelPadding": 21, "labelExpr": "datum.value < 0 ? '-' + abs(datum.value) : datum.label", "title": "wᵧ, m/sec", "titleX": -83, "titleBaseline": "middle", "titleFontSize": 22}},
    "detail": {"field": "id", "type": "nominal"},
    "strokeDash": {"field": "t", "type": "nominal",
      "scale": {"domain": ["RADAR", "STOLAND", "BALLOON 250"], "range": [[18, 9], [1, 0], [22, 6, 3, 6]]},
      "legend": null}
   }},
  {"data": {"values": [{"s": 80.2, "w": 7.6, "txt": "FLIGHT 1"}]},
   "mark": {"type": "text", "align": "right", "baseline": "middle", "font": "DejaVu Sans", "fontWeight": "bold", "fontSize": 24, "color": "#000"},
   "encoding": {"x": {"field": "s", "type": "quantitative"}, "y": {"field": "w", "type": "quantitative"}, "text": {"field": "txt"}}},
  {"data": {"values": [{"s": 81.1, "w": -5}]},
   "mark": {"type": "point", "shape": "M -2 -0.5 L 0 0 L -2 0.5 Z", "size": 400, "filled": true, "color": "#000", "opacity": 1, "strokeWidth": 0},
   "encoding": {"x": {"field": "s", "type": "quantitative"}, "y": {"field": "w", "type": "quantitative"}}}
 ]
}
]
}
